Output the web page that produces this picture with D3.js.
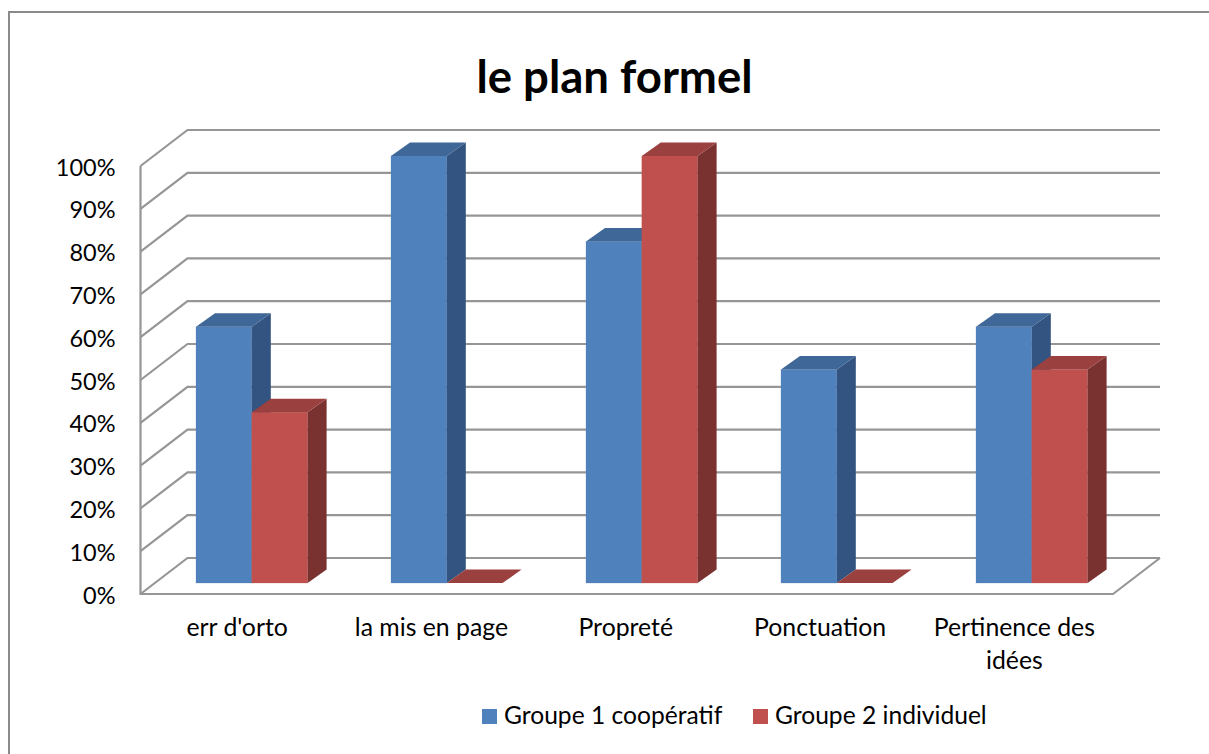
<!DOCTYPE html>
<html lang="fr">
<head>
<meta charset="utf-8">
<script src="https://cdn.jsdelivr.net/npm/d3@7/dist/d3.min.js"></script>
<style>
html,body{margin:0;padding:0;background:#fff;overflow:hidden}
svg{display:block}
text{font-family:Lato,Carlito,"Open Sans",sans-serif;fill:#000}
</style>
</head>
<body>
<svg id="chart" width="1209" height="754"></svg>
<script>
const categories = ["err d'orto", "la mis en page", "Propreté", "Ponctuation", "Pertinence des idées"];
const group1 = [60, 100, 80, 50, 60];
const group2 = [40, 0, 100, 0, 50];
const seriesNames = ["Groupe 1 coopératif", "Groupe 2 individuel"];
const ticks = [0, 10, 20, 30, 40, 50, 60, 70, 80, 90, 100];
const titleText = "le plan formel";

const svg = d3.select("#chart");
const W = 1209, H = 754;

const front = {left: 140.5, right: 1113, bottom: 594, top: 166};
const depth = {dx: 47, dy: 36};      // floor depth
const barBaseY = 583;                // baseline of the bars' front plane
const barDepth = {dx: 19, dy: 13.5}; // depth of each bar
const bw = 55.8;

const y = d3.scaleLinear().domain([0, 100]).range([front.bottom, front.top]);
const yBar = d3.scaleLinear().domain([0, 100]).range([barBaseY, 156]);
const xBar = d3.scaleBand().domain(categories).range([155, 1130]);
const xLabel = d3.scaleBand().domain(categories).range([140, 1111.5]);

const gridColor = "#969696";

// chart frame
svg.append("path").attr("d", `M9,${H}V12H${W}`).attr("fill", "none").attr("stroke", "#8a8a8a").attr("stroke-width", 2);

// gridlines
const g = svg.append("g").attr("fill", "none").attr("stroke", gridColor).attr("stroke-width", 2.2);
ticks.forEach(t => {
  const yy = y(t);
  g.append("path").attr("d", `M${front.left},${yy}L${front.left + depth.dx},${yy - depth.dy}H${front.right + depth.dx}`);
});
g.append("path").attr("d", `M${front.left},${y(100)}V${y(0)}H${front.right}L${front.right + depth.dx},${y(0) - depth.dy}`);

// y labels
const yAxis = svg.append("g");
ticks.forEach(t => {
  yAxis.append("text").attr("x", 115.5).attr("y", y(t) + 9.5)
    .attr("text-anchor", "end").attr("font-size", 23.5).text(t + "%");
});

// bars
const series = [
  {values: group1, front: "#4f81bd", top: "#3f6797", side: "#335380", i: 0},
  {values: group2, front: "#c0504d", top: "#9a403e", side: "#7a3230", i: 1}
];
const barsG = svg.append("g");
function drawBar(s, c, k) {
  const v = s.values[k];
  const x0 = xBar(c) + 41 + s.i * bw;
  const y0 = yBar(0);
  const y1 = yBar(v);
  const d = barDepth;
  const b = barsG.append("g");
  if (v > 0) {
    b.append("rect").attr("x", x0).attr("y", y1).attr("width", bw).attr("height", y0 - y1)
      .attr("fill", s.front).attr("stroke", s.front).attr("stroke-opacity", 0.25).attr("stroke-width", 1);
    b.append("path").attr("d", `M${x0 + bw},${y1}l${d.dx},${-d.dy}V${y0 - d.dy}l${-d.dx},${d.dy}Z`).attr("fill", s.side);
  }
  b.append("path").attr("d", `M${x0},${y1}l${d.dx},${-d.dy}h${bw}l${-d.dx},${d.dy}Z`).attr("fill", s.top);
}
categories.forEach((c, k) => {
  series.forEach(s => drawBar(s, c, k));
});

// category labels
const labelG = svg.append("g");
categories.forEach(c => {
  const cx = xLabel(c) + xLabel.bandwidth() / 2;
  const lines = c === "Pertinence des idées" ? ["Pertinence des", "idées"] : [c];
  lines.forEach((l, i) => {
    labelG.append("text").attr("x", cx).attr("y", 636 + i * 33)
      .attr("text-anchor", "middle").attr("font-size", 24.8).text(l);
  });
});

// title
svg.append("text").attr("x", 614.5).attr("y", 93).attr("text-anchor", "middle")
  .attr("font-size", 45.5).attr("font-weight", 700).text(titleText);

// legend
const legendX = [482, 753];
seriesNames.forEach((n, i) => {
  svg.append("rect").attr("x", legendX[i]).attr("y", 709).attr("width", 15).attr("height", 15).attr("fill", series[i].front);
  svg.append("text").attr("x", legendX[i] + 22).attr("y", 724).attr("font-size", 24.6).text(n);
});
</script>
</body>
</html>
